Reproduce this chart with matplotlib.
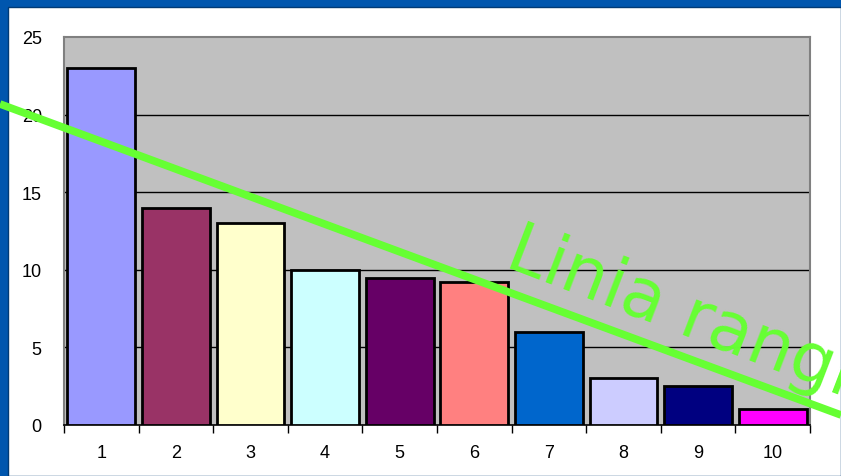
import matplotlib.pyplot as plt
from matplotlib.patches import Rectangle
from matplotlib.lines import Line2D

# data
categories = [1, 2, 3, 4, 5, 6, 7, 8, 9, 10]
values = [23, 14, 13, 10, 9.5, 9.2, 6, 3, 2.5, 1]
colors = ['#9999FF', '#993366', '#FFFFCC', '#CCFFFF', '#660066',
          '#FF8080', '#0066CC', '#CCCCFF', '#000080', '#FF00FF']
yticks = [0, 5, 10, 15, 20, 25]
label = 'Linia rangi'

plt.rcParams['font.family'] = ['Liberation Sans', 'DejaVu Sans']

W, H = 841, 477
fig = plt.figure(figsize=(W / 100, H / 100), dpi=100, facecolor='#0056AE')

# white chart area over the blue slide background
fig.patches.append(Rectangle((8 / W, 0), 1 - 8 / W, 1 - 8 / H,
                             transform=fig.transFigure, facecolor='white',
                             edgecolor='#003A75', linewidth=1, zorder=-5))

ax = fig.add_axes([64 / W, 1 - 426 / H, (810 - 64) / W, (426 - 38) / H])
ax.set_facecolor('#C0C0C0')

ax.bar(categories, values, width=0.91, color=colors, edgecolor='black',
       linewidth=2, zorder=3)

ax.set_xlim(0.5, 10.5)
ax.set_ylim(0, 25)
ax.set_yticks(yticks)
ax.set_xticks(categories)
ax.set_xticks([c - 0.5 for c in categories] + [10.5], minor=True)
ax.tick_params(axis='x', which='major', length=0, pad=14, labelsize=13)
ax.tick_params(axis='x', which='minor', length=6, width=1, color='black')
ax.tick_params(axis='y', length=0, pad=16, labelsize=13)

for y in yticks[1:-1]:
    ax.axhline(y, color='black', linewidth=1, zorder=1)

for side in ['top', 'right', 'left']:
    ax.spines[side].set_color('#808080')
    ax.spines[side].set_linewidth(1.5)
ax.spines['bottom'].set_color('black')
ax.spines['bottom'].set_linewidth(1.2)

# green "rank line" drawn across the slide
fig.lines.append(Line2D([0, 1], [1 - 105 / H, 1 - 416 / H],
                        transform=fig.transFigure, color='#66FF33',
                        linewidth=5.5, solid_capstyle='butt', zorder=10))
fig.text(503 / W, 1 - 266 / H, label, color='#66FF33', fontsize=50,
         family='DejaVu Sans', rotation=-21, rotation_mode='anchor',
         ha='left', va='baseline', zorder=11)

fig.savefig('out.png', dpi=100, facecolor=fig.get_facecolor())
